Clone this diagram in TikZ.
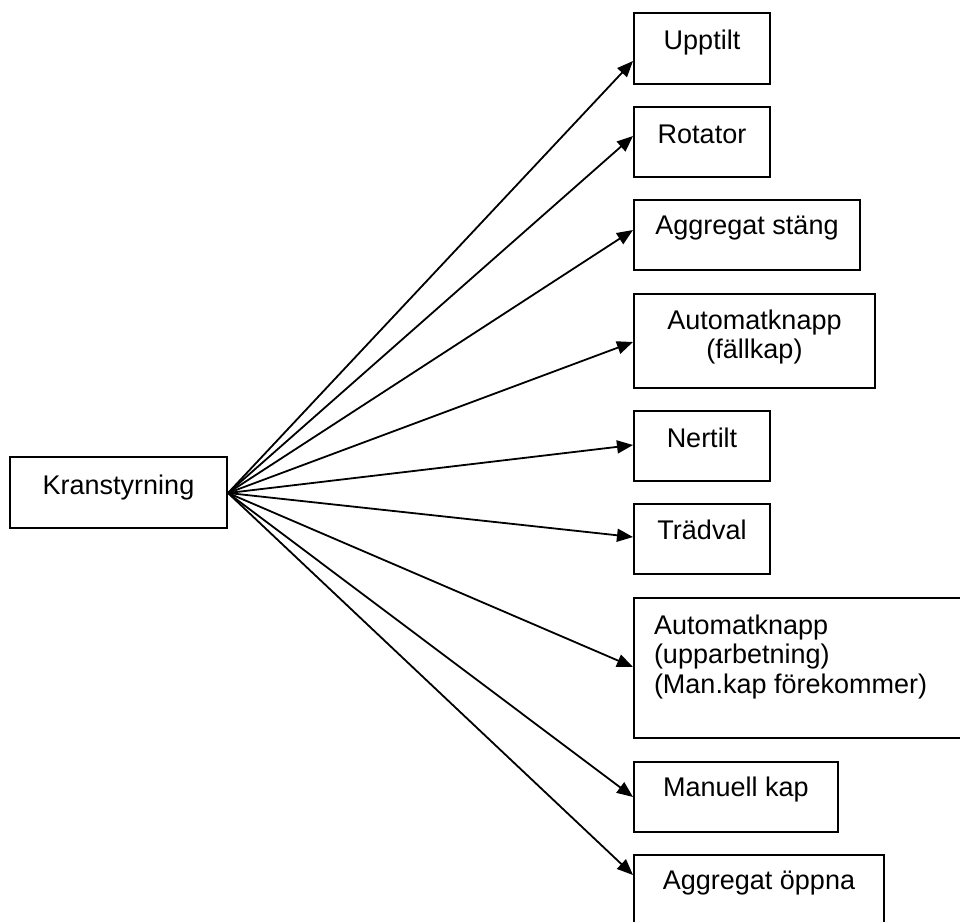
\documentclass[tikz,border=0pt]{standalone}
\usepackage{fontspec}
\setmainfont{Liberation Sans}
\usetikzlibrary{arrows.meta,calc}
\tikzset{
  bx/.style={draw, line width=1pt, inner sep=0pt, anchor=north west},
  conn/.style={line width=0.9pt, -{Triangle[length=8pt,width=6.5pt]}}
}
% #1 width (px), #2 height (px), #3 baseline from top (px), #4 alignment, #5 text
\newcommand\bxtext[5]{\parbox[t][#2\dimexpr0.5pt\relax][t]{#1\dimexpr0.5pt\relax}{#4\rule{0pt}{#3\dimexpr0.5pt\relax}#5}}
\begin{document}
\begin{tikzpicture}[x=0.5pt,y=-0.5pt,font=\fontsize{13.5pt}{14.8pt}\selectfont]
\clip (0,0) rectangle (960,922);
\fill[white] (0,0) rectangle (960,922);
\node[bx] (kran) at (9,456) {\bxtext{217}{71}{37}{\centering}{Kranstyrning}};
\node[bx] (upp) at (633,12) {\bxtext{136}{71}{36}{\centering}{Upptilt}};
\node[bx] (rot) at (633,106) {\bxtext{136}{70}{36}{\centering}{Rotator}};
\node[bx] (stang) at (633,199) {\bxtext{226}{70}{34}{\centering}{Aggregat stäng}};
\node[bx] (fall) at (633,293) {\bxtext{241}{94}{35}{\centering}{Automatknapp\\(fällkap)}};
\node[bx] (ner) at (633,410) {\bxtext{136}{70}{36}{\centering}{Nertilt}};
\node[bx] (trad) at (633,503) {\bxtext{136}{70}{35}{\centering}{Trädval}};
\node[bx] (upparb) at (633,597) {\bxtext{336}{140}{36}{\raggedright\hspace*{10pt}}{Automatknapp\\\hspace*{10pt}(upparbetning)\\\hspace*{10pt}(Man.kap förekommer)}};
\node[bx] (man) at (633,761) {\bxtext{204}{70}{34}{\centering}{Manuell kap}};
\node[bx] (oppna) at (633,854) {\bxtext{250}{80}{34}{\centering}{Aggregat öppna}};
\coordinate (src) at ($(kran.north east)+(0,37)$);
\draw[conn] (src) -- ($(upp.north west)+(0,49)$);
\draw[conn] (src) -- ($(rot.north west)+(0,30)$);
\draw[conn] (src) -- ($(stang.north west)+(0,31)$);
\draw[conn] (src) -- ($(fall.north west)+(0,49)$);
\draw[conn] (src) -- ($(ner.north west)+(0,35)$);
\draw[conn] (src) -- ($(trad.north west)+(0,34)$);
\draw[conn] (src) -- ($(upparb.north west)+(0,70)$);
\draw[conn] (src) -- ($(man.north west)+(0,36)$);
\draw[conn] (src) -- ($(oppna.north west)+(0,21)$);
\end{tikzpicture}
\end{document}
